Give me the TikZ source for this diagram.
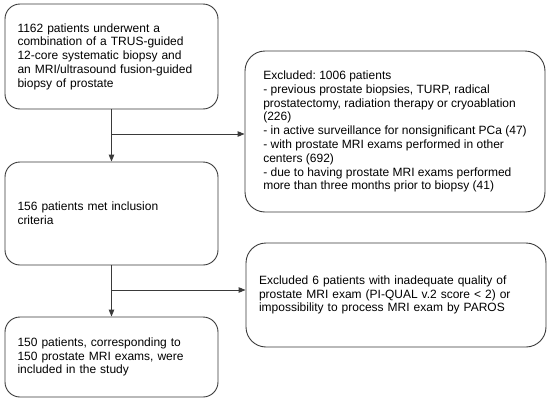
\documentclass[tikz,border=0pt]{standalone}
\usepackage{fontspec}
\setmainfont{Liberation Sans}
\usetikzlibrary{arrows.meta}
\definecolor{linegray}{HTML}{3A3A3A}
\begin{document}
\begin{tikzpicture}[x=1pt,y=-1pt,
  box/.style={draw=linegray, line width=0.9pt, align=left, inner ysep=0pt,
    font=\fontsize{12}{13.8}\selectfont\frenchspacing, text=black},
  lbox/.style={box, rounded corners=15pt, inner xsep=12.5pt, text width=188pt, minimum width=213pt},
  rbox/.style={box, rounded corners=20pt, minimum width=300pt},
  conn/.style={draw=linegray, line width=0.9pt},
  arr/.style={conn, -{Triangle[length=7pt,width=5.5pt]}}]
\useasboundingbox (0,0) rectangle (550,402);
\node[lbox, minimum height=105pt] (b1) at (111.5,56.5)
  {1162 patients underwent a\\combination of a TRUS-guided\\12-core systematic biopsy and\\an MRI/ultrasound fusion-guided\\biopsy of prostate};
\node[rbox, minimum height=161pt] (b2) at (395,131.5)
  {Excluded: 1006 patients\\- previous prostate biopsies, TURP, radical\\prostatectomy, radiation therapy or cryoablation\\(226)\\- in active surveillance for nonsignificant PCa (47)\\- with prostate MRI exams performed in other\\centers (692)\\- due to having prostate MRI exams performed\\more than three months prior to biopsy (41)};
\node[rbox, minimum height=104pt, inner xsep=13pt, text width=274pt] (b4) at (396,295)
  {Excluded 6 patients with inadequate quality of\\prostate MRI exam (PI-QUAL v.2 score < 2) or\\impossibility to process MRI exam by PAROS};
\node[lbox, minimum height=103pt] (b3) at (111.5,213.5)
  {156 patients met inclusion\\criteria};
\node[lbox, minimum height=80pt] (b5) at (111.5,357)
  {150 patients, corresponding to\\150 prostate MRI exams, were\\included in the study};
\coordinate (j1) at (111.5,134);
\coordinate (j2) at (111.5,290);
\draw[arr] (b1.south) -- (b3.north);
\draw[arr] (j1) -- (j1 -| b2.west);
\draw[arr] (b3.south) -- (b5.north);
\draw[arr] (j2) -- (j2 -| b4.west);
\end{tikzpicture}
\end{document}
